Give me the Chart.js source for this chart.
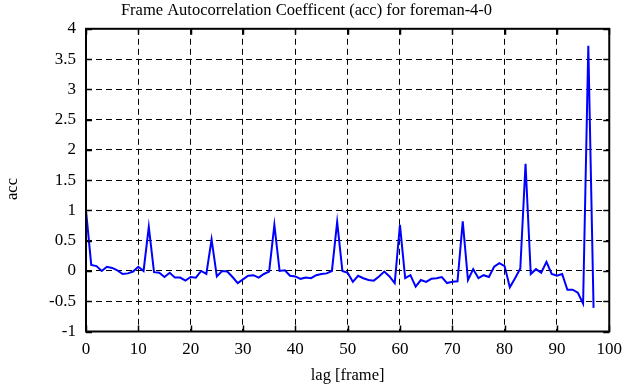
<!DOCTYPE html>
<html>
<head>
<meta charset="utf-8">
<script src="https://cdn.jsdelivr.net/npm/chart.js@4"></script>
<style>
  html, body { margin: 0; padding: 0; background: #fff; }
  #wrap { width: 630px; height: 387px; }
</style>
</head>
<body>
<div id="wrap"><canvas id="accChart" width="630" height="387"></canvas></div>
<script>
// lag values (frames) and autocorrelation
const lags = [];
for (let i = 0; i <= 97; i++) lags.push(i);
const acc = [
    1.00, 0.10, 0.08, 0.00, 0.07, 0.05, 0.01, -0.05, -0.04, -0.01,
    0.07, 0.00, 0.73, -0.02, -0.03, -0.10, -0.03, -0.11, -0.11, -0.16,
    -0.10, -0.11, 0.00, -0.05, 0.52, -0.09, 0.00, -0.01, -0.10, -0.20,
    -0.14, -0.08, -0.07, -0.11, -0.05, -0.01, 0.76, 0.00, 0.01, -0.08,
    -0.09, -0.13, -0.11, -0.12, -0.07, -0.05, -0.04, 0.00, 0.81, 0.00,
    -0.03, -0.18, -0.08, -0.12, -0.15, -0.16, -0.09, -0.01, -0.09, -0.20,
    0.76, -0.12, -0.07, -0.26, -0.15, -0.18, -0.13, -0.12, -0.10, -0.20,
    -0.18, -0.17, 0.82, -0.15, 0.03, -0.12, -0.07, -0.10, 0.07, 0.13,
    0.08, -0.27, -0.12, 0.04, 1.77, -0.05, 0.03, -0.03, 0.15, -0.05,
    -0.08, -0.05, -0.31, -0.31, -0.36, -0.54, 3.72, -0.61
];
const xTicks = [0, 10, 20, 30, 40, 50, 60, 70, 80, 90, 100];
const yTicks = [-1, -0.5, 0, 0.5, 1, 1.5, 2, 2.5, 3, 3.5, 4];

const serif = '"Liberation Serif", "DejaVu Serif", serif';

// gnuplot style frame with inward ticks on all four sides, plus the y label
const frameBox = {
    id: 'frameBox',
    afterDraw(chart) {
        const ctx = chart.ctx;
        const a = chart.chartArea;
        const xs = chart.scales.x, ys = chart.scales.y;
        const len = 6;
        ctx.save();
        ctx.strokeStyle = '#000';
        ctx.lineWidth = 1.5;
        ctx.beginPath();
        xTicks.forEach(v => {
            const px = Math.round(xs.getPixelForValue(v)) + 0.5;
            ctx.moveTo(px, a.bottom); ctx.lineTo(px, a.bottom - len);
            ctx.moveTo(px, a.top); ctx.lineTo(px, a.top + len);
        });
        yTicks.forEach(v => {
            const py = Math.round(ys.getPixelForValue(v)) + 0.5;
            ctx.moveTo(a.left, py); ctx.lineTo(a.left + len, py);
            ctx.moveTo(a.right, py); ctx.lineTo(a.right - len, py);
        });
        ctx.stroke();
        ctx.lineWidth = 2;
        ctx.strokeRect(a.left, a.top, a.right - a.left, a.bottom - a.top);

        // y axis label, placed a bit below centre like gnuplot does
        ctx.translate(13, 189);
        ctx.rotate(-Math.PI / 2);
        ctx.fillStyle = '#000';
        ctx.font = '16.5px ' + serif;
        ctx.textAlign = 'center';
        ctx.textBaseline = 'middle';
        ctx.fillText('acc', 0, 0);
        ctx.restore();
    }
};

new Chart(document.getElementById('accChart'), {
    type: 'line',
    data: {
        datasets: [{
            label: 'acc',
            data: lags.map((l, i) => ({ x: l, y: acc[i] })),
            borderColor: 'rgb(0,0,255)',
            borderWidth: 2,
            pointRadius: 0,
            tension: 0,
            fill: false
        }]
    },
    options: {
        responsive: false,
        animation: false,
        devicePixelRatio: 1,
        layout: { padding: { left: 0, right: 17, top: 0, bottom: 0 } },
        plugins: {
            legend: { display: false },
            tooltip: { enabled: false },
            title: {
                display: true,
                text: 'Frame Autocorrelation Coefficent (acc) for foreman-4-0',
                color: '#000',
                font: { family: serif, size: 16.5, weight: 'normal' },
                padding: { top: 1, bottom: 8 }
            }
        },
        scales: {
            x: {
                type: 'linear',
                min: 0,
                max: 100,
                afterBuildTicks: s => { s.ticks = xTicks.map(v => ({ value: v })); },
                afterFit: s => { s.height = 55.5; },
                ticks: {
                    color: '#000',
                    padding: 8,
                    maxRotation: 0,
                    font: { family: serif, size: 17 },
                    callback: v => String(v)
                },
                grid: { color: '#000', lineWidth: 1, drawTicks: false },
                border: { display: false, dash: [6, 4] },
                title: {
                    display: true,
                    text: 'lag [frame]',
                    color: '#000',
                    padding: { top: 0, bottom: 1 },
                    font: { family: serif, size: 16.5 }
                }
            },
            y: {
                type: 'linear',
                min: -1,
                max: 4,
                afterBuildTicks: s => { s.ticks = yTicks.map(v => ({ value: v })); },
                afterFit: s => { s.width = 86; },
                ticks: {
                    color: '#000',
                    padding: 10,
                    font: { family: serif, size: 17 },
                    callback: v => String(v)
                },
                grid: { color: '#000', lineWidth: 1, drawTicks: false },
                border: { display: false, dash: [6, 4] }
            }
        }
    },
    plugins: [frameBox]
});
</script>
</body>
</html>
